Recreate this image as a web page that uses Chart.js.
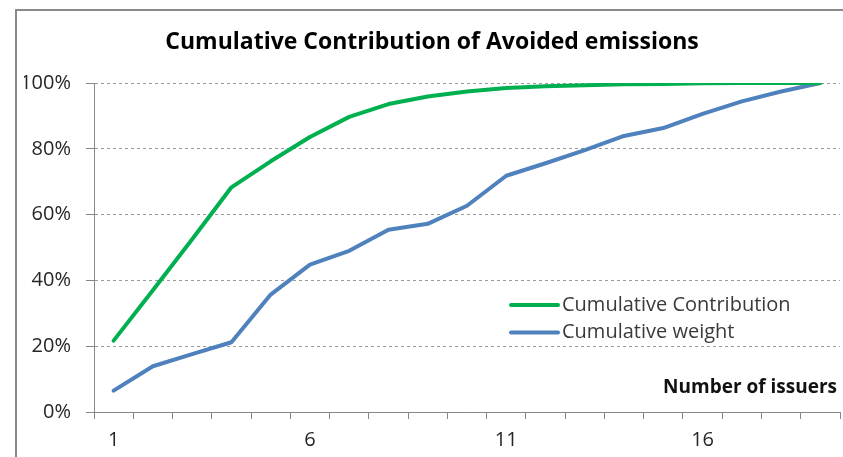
<!DOCTYPE html>
<html>
<head>
<meta charset="utf-8">
<script src="https://cdn.jsdelivr.net/npm/chart.js@4/dist/chart.umd.min.js"></script>
<style>
  html, body { margin: 0; padding: 0; background: #fff; }
  #wrap { width: 843px; height: 457px; }
</style>
</head>
<body>
<div id="wrap"><canvas id="c" width="843" height="457"></canvas></div>
<script>
const chartTitle = 'Cumulative Contribution of Avoided emissions';
const axisTitle = 'Number of issuers';
const issuers = ['1','2','3','4','5','6','7','8','9','10','11','12','13','14','15','16','17','18','19'];
const cumulativeContribution = [21.7, 37.0, 52.5, 68.3, 76.2, 83.6, 89.7, 93.6, 95.9, 97.4, 98.5, 99.0, 99.3, 99.6, 99.7, 99.9, 100, 100, 100];
const cumulativeWeight = [6.5, 13.9, 17.6, 21.2, 35.7, 44.8, 49.0, 55.4, 57.2, 62.7, 71.8, 75.6, 79.6, 83.9, 86.3, 90.6, 94.4, 97.4, 100];
const seriesNames = ['Cumulative Contribution', 'Cumulative weight'];
const shownXTicks = ['1','6','11','16'];

const FONT = "'Open Sans', 'Liberation Sans', sans-serif";
const AXIS = '#868686';

const overlay = {
  id: 'overlay',
  beforeDraw(chart) {
    const ctx = chart.ctx;
    ctx.save();
    ctx.strokeStyle = '#8a8a8a';
    ctx.lineWidth = 2;
    ctx.strokeRect(16, 10, 900, 600);
    ctx.restore();
  },
  afterDatasetsDraw(chart) {
    const ctx = chart.ctx;
    const a = chart.chartArea;
    ctx.save();
    chart.data.datasets.forEach((ds, i) => {
      const y = a.top + 222 + i * 27.5;
      const x0 = a.left + 417;
      ctx.strokeStyle = ds.borderColor;
      ctx.lineWidth = 4;
      ctx.lineCap = 'round';
      ctx.beginPath();
      ctx.moveTo(x0, y);
      ctx.lineTo(x0 + 47, y);
      ctx.stroke();
      ctx.fillStyle = '#3a3a3a';
      ctx.font = "20px " + FONT;
      ctx.textBaseline = 'middle';
      ctx.textAlign = 'left';
      ctx.fillText(ds.label, x0 + 51, y);
    });
    ctx.fillStyle = '#111';
    ctx.font = "bold 19px " + FONT;
    ctx.textAlign = 'right';
    ctx.textBaseline = 'middle';
    ctx.fillText(axisTitle, a.right - 3, a.bottom - 24);
    ctx.restore();
  }
};

new Chart(document.getElementById('c'), {
  type: 'line',
  data: {
    labels: issuers,
    datasets: [
      { label: seriesNames[0], data: cumulativeContribution, borderColor: '#00B050', backgroundColor: '#00B050',
        borderWidth: 4, pointRadius: 0, tension: 0, borderCapStyle: 'round', borderJoinStyle: 'round' },
      { label: seriesNames[1], data: cumulativeWeight, borderColor: '#4F81BD', backgroundColor: '#4F81BD',
        borderWidth: 4, pointRadius: 0, tension: 0, borderCapStyle: 'round', borderJoinStyle: 'round' }
    ]
  },
  options: {
    responsive: false,
    animation: false,
    events: [],
    layout: { padding: { left: 24, right: 3, top: 0, bottom: 0 } },
    plugins: {
      legend: { display: false },
      tooltip: { enabled: false },
      title: {
        display: true,
        text: chartTitle,
        color: '#000',
        font: { family: FONT, size: 23, weight: 'bold', lineHeight: 1.2 },
        padding: { top: 28.2, bottom: 27.2 }
      }
    },
    scales: {
      x: {
        offset: true,
        afterFit(s) { s.height = 45; },
        grid: { display: true, drawOnChartArea: false, drawTicks: true, offset: true, tickLength: 7, tickColor: AXIS, color: AXIS },
        border: { display: true, color: AXIS, width: 1 },
        ticks: {
          autoSkip: false, maxRotation: 0, minRotation: 0, padding: 9,
          color: '#262626', font: { family: FONT, size: 20 },
          callback(v, i) { const l = issuers[i]; return shownXTicks.includes(l) ? l : ''; }
        }
      },
      y: {
        min: 0, max: 100,
        afterFit(s) { s.width = 70; },
        grid: { color: '#9a9a9a', tickLength: 8, tickColor: AXIS, tickBorderDash: [] },
        border: { display: true, color: AXIS, width: 1, dash: [3, 3] },
        ticks: {
          stepSize: 20, padding: 15,
          color: '#262626', font: { family: FONT, size: 20 },
          callback(v) { return v + '%'; }
        }
      }
    }
  },
  plugins: [overlay]
});
</script>
</body>
</html>
